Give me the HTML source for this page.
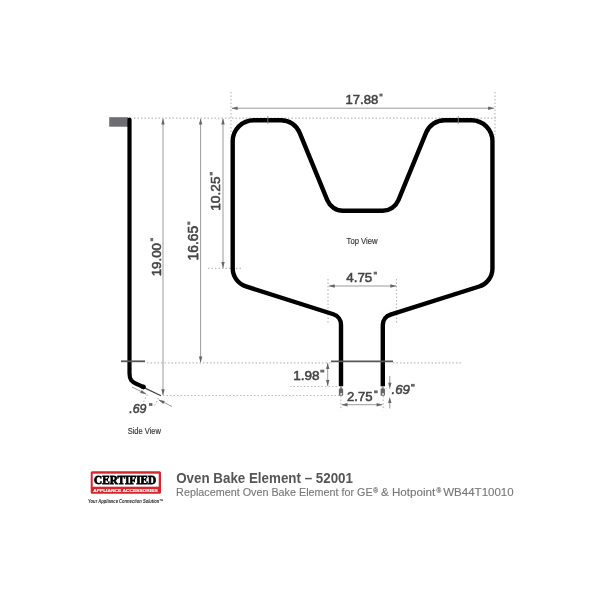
<!DOCTYPE html>
<html><head><meta charset="utf-8"><style>
html,body{margin:0;padding:0;background:#fff;width:600px;height:600px;overflow:hidden}
svg{display:block;will-change:transform}
</style></head><body>
<svg width="600" height="600" viewBox="0 0 600 600">
<rect width="600" height="600" fill="#fff"/>
<line x1="134" y1="118.2" x2="498" y2="118.2" stroke="#bcbcbc" stroke-width="1.2" stroke-dasharray="1.5 2" fill="none"/>
<line x1="231" y1="92" x2="231" y2="135" stroke="#bcbcbc" stroke-width="1.2" stroke-dasharray="1.5 2" fill="none"/>
<line x1="495" y1="92" x2="495" y2="135" stroke="#bcbcbc" stroke-width="1.2" stroke-dasharray="1.5 2" fill="none"/>
<line x1="208" y1="268.3" x2="241" y2="268.3" stroke="#bcbcbc" stroke-width="1.2" stroke-dasharray="1.5 2" fill="none"/>
<line x1="147" y1="362.8" x2="331" y2="362.8" stroke="#bcbcbc" stroke-width="1.2" stroke-dasharray="1.5 2" fill="none"/>
<line x1="393" y1="362.8" x2="463" y2="362.8" stroke="#bcbcbc" stroke-width="1.2" stroke-dasharray="1.5 2" fill="none"/>
<line x1="163" y1="395.5" x2="340" y2="395.5" stroke="#bcbcbc" stroke-width="1.2" stroke-dasharray="1.5 2" fill="none"/>
<line x1="290" y1="386.5" x2="338" y2="386.5" stroke="#bcbcbc" stroke-width="1.2" stroke-dasharray="1.5 2" fill="none"/>
<line x1="328" y1="279" x2="328" y2="324" stroke="#bcbcbc" stroke-width="1.2" stroke-dasharray="1.5 2" fill="none"/>
<line x1="396.5" y1="279" x2="396.5" y2="324" stroke="#bcbcbc" stroke-width="1.2" stroke-dasharray="1.5 2" fill="none"/>
<line x1="340.9" y1="396" x2="340.9" y2="410.2" stroke="#bcbcbc" stroke-width="1.2" stroke-dasharray="1.5 2" fill="none"/>
<line x1="383.2" y1="396" x2="383.2" y2="410.2" stroke="#bcbcbc" stroke-width="1.2" stroke-dasharray="1.5 2" fill="none"/>
<line x1="385.5" y1="388.6" x2="393" y2="388.6" stroke="#d8d8d8" stroke-width="1" stroke-dasharray="1.5 2"/>
<line x1="147.5" y1="394.5" x2="143.5" y2="402" stroke="#bcbcbc" stroke-width="1.2" stroke-dasharray="1.5 2" fill="none"/>
<line x1="158.5" y1="398" x2="154.5" y2="406" stroke="#bcbcbc" stroke-width="1.2" stroke-dasharray="1.5 2" fill="none"/>
<line x1="232" y1="108.2" x2="494" y2="108.2" stroke="#9a9a9a" stroke-width="1" fill="none"/>
<path d="M231.50 108.20 L237.70 106.50 L237.70 109.90 Z" fill="#666"/>
<path d="M494.30 108.20 L488.10 109.90 L488.10 106.50 Z" fill="#666"/>
<line x1="163" y1="119" x2="163" y2="395" stroke="#9a9a9a" stroke-width="1" fill="none"/>
<path d="M163.00 118.20 L164.70 124.40 L161.30 124.40 Z" fill="#666"/>
<path d="M163.00 395.50 L161.30 389.30 L164.70 389.30 Z" fill="#666"/>
<line x1="200.6" y1="119" x2="200.6" y2="362" stroke="#9a9a9a" stroke-width="1" fill="none"/>
<path d="M200.60 118.30 L202.30 124.50 L198.90 124.50 Z" fill="#666"/>
<path d="M200.60 362.70 L198.90 356.50 L202.30 356.50 Z" fill="#666"/>
<line x1="223.0" y1="119" x2="223.0" y2="268" stroke="#9a9a9a" stroke-width="1" fill="none"/>
<path d="M223.00 118.30 L224.70 124.50 L221.30 124.50 Z" fill="#666"/>
<path d="M223.00 268.30 L221.30 262.10 L224.70 262.10 Z" fill="#666"/>
<line x1="329" y1="286" x2="396" y2="286" stroke="#9a9a9a" stroke-width="1" fill="none"/>
<path d="M328.50 286.00 L334.70 284.30 L334.70 287.70 Z" fill="#666"/>
<path d="M396.50 286.00 L390.30 287.70 L390.30 284.30 Z" fill="#666"/>
<line x1="327.7" y1="363" x2="327.7" y2="386" stroke="#9a9a9a" stroke-width="1" fill="none"/>
<path d="M327.70 362.80 L329.40 369.00 L326.00 369.00 Z" fill="#666"/>
<path d="M327.70 386.30 L326.00 380.10 L329.40 380.10 Z" fill="#666"/>
<line x1="342" y1="404.7" x2="382" y2="404.7" stroke="#9a9a9a" stroke-width="1" fill="none"/>
<path d="M341.30 404.70 L347.50 403.00 L347.50 406.40 Z" fill="#666"/>
<path d="M382.80 404.70 L376.60 406.40 L376.60 403.00 Z" fill="#666"/>
<line x1="389.8" y1="376" x2="389.8" y2="383" stroke="#9a9a9a" stroke-width="1" fill="none"/>
<path d="M389.80 389.00 L388.10 382.80 L391.50 382.80 Z" fill="#666"/>
<line x1="389.8" y1="401" x2="389.8" y2="408.5" stroke="#9a9a9a" stroke-width="1" fill="none"/>
<path d="M389.80 396.90 L391.50 403.10 L388.10 403.10 Z" fill="#666"/>
<line x1="132" y1="387" x2="146" y2="394" stroke="#9a9a9a" stroke-width="1" fill="none"/>
<path d="M146.50 394.30 L140.19 393.05 L141.71 390.01 Z" fill="#666"/>
<line x1="159" y1="400" x2="172" y2="406.5" stroke="#9a9a9a" stroke-width="1" fill="none"/>
<path d="M158.50 399.80 L164.81 401.05 L163.29 404.09 Z" fill="#666"/>
<path d="M341.00 386.20 L341.00 324.74 A11.00 11.00 0 0 0 333.34 314.26 L245.93 286.42 A19.00 19.00 0 0 1 232.70 268.31 L232.70 141.20 A21.00 21.00 0 0 1 253.70 120.20 L281.08 120.20 A20.00 20.00 0 0 1 299.59 132.61 L327.28 200.15 A17.00 17.00 0 0 0 343.01 210.70 L382.69 210.70 A17.00 17.00 0 0 0 398.42 200.15 L426.11 132.61 A20.00 20.00 0 0 1 444.62 120.20 L471.45 120.20 A21.00 21.00 0 0 1 492.45 141.20 L492.45 268.38 A19.00 19.00 0 0 1 479.18 286.50 L390.48 314.57 A11.00 11.00 0 0 0 382.80 325.06 L382.80 386.20" stroke="#000" stroke-width="4.4" fill="none" stroke-linecap="butt"/>
<line x1="267.8" y1="116" x2="267.8" y2="124" stroke="#888" stroke-width="0.8"/>
<line x1="458.3" y1="116" x2="458.3" y2="124" stroke="#888" stroke-width="0.8"/>
<rect x="340.00" y="386" width="2" height="3" fill="#999"/>
<rect x="338.85" y="388.6" width="4.3" height="7.1" rx="0.8" fill="#666"/>
<rect x="340.30" y="393.3" width="1.8" height="1.4" fill="#fff"/>
<rect x="381.80" y="386" width="2" height="3" fill="#999"/>
<rect x="380.65" y="388.6" width="4.3" height="7.1" rx="0.8" fill="#666"/>
<rect x="382.10" y="393.3" width="1.8" height="1.4" fill="#fff"/>
<line x1="331" y1="361.3" x2="393" y2="361.3" stroke="#555" stroke-width="1.8"/>
<rect x="109.2" y="117.2" width="19" height="9.5" fill="#6e6e72"/>
<path d="M129.5 119.6 L129.5 373.5 C129.5 379.5 131.5 381.8 137.2 384.2 L143.6 387.1" stroke="#000" stroke-width="4.2" fill="none" stroke-linecap="round"/>
<line x1="144" y1="387.6" x2="161" y2="395.8" stroke="#444" stroke-width="1.2"/>
<circle cx="143.3" cy="386.9" r="2.4" fill="#000"/>
<line x1="121" y1="361.3" x2="145" y2="361.3" stroke="#555" stroke-width="1.8"/>
<text font-family="Liberation Sans, sans-serif" font-size="13.362" font-weight="normal" font-style="normal" fill="#444" stroke="#444" stroke-width="0.55" transform="matrix(0.9818 0 0 1 345.473 103.796)">17.88</text>
<rect x="346.78" y="102.75" width="5.25" height="1.30" fill="#444"/>
<rect x="379.40" y="93.60" width="3.20" height="2.80" fill="#6a6a6a"/>
<text font-family="Liberation Sans, sans-serif" font-size="13.553" font-weight="normal" font-style="normal" fill="#444" stroke="#444" stroke-width="0.55" transform="matrix(0.9869 0 0 1 346.262 281.894)">4.75</text>
<rect x="373.70" y="271.70" width="3.30" height="2.80" fill="#6a6a6a"/>
<text font-family="Liberation Sans, sans-serif" font-size="13.362" font-weight="normal" font-style="normal" fill="#444" stroke="#444" stroke-width="0.55" transform="matrix(1.0143 0 0 1 293.240 379.896)">1.98</text>
<rect x="294.60" y="378.85" width="5.42" height="1.30" fill="#444"/>
<rect x="320.30" y="369.70" width="4.00" height="2.80" fill="#6a6a6a"/>
<text font-family="Liberation Sans, sans-serif" font-size="13.362" font-weight="normal" font-style="normal" fill="#444" stroke="#444" stroke-width="0.55" transform="matrix(0.9874 0 0 1 346.910 400.596)">2.75</text>
<rect x="374.00" y="390.40" width="3.70" height="2.80" fill="#6a6a6a"/>
<text font-family="Liberation Sans, sans-serif" font-size="13.644" font-weight="normal" font-style="italic" fill="#444" stroke="#444" stroke-width="0.55" transform="matrix(0.9725 0 0 1 391.453 394.294)">.69</text>
<rect x="411.00" y="383.90" width="3.70" height="2.80" fill="#6a6a6a"/>
<text font-family="Liberation Sans, sans-serif" font-size="13.220" font-weight="normal" font-style="italic" fill="#444" stroke="#444" stroke-width="0.55" transform="matrix(0.9354 0 0 1 129.288 413.198)">.69</text>
<rect x="149.00" y="403.10" width="3.40" height="2.80" fill="#6a6a6a"/>
<text font-family="Liberation Sans, sans-serif" font-size="13.362" font-weight="normal" font-style="normal" fill="#444" stroke="#444" stroke-width="0.55" transform="matrix(0 -0.9989 1 0 160.596 276.344)">19.00</text>
<rect x="159.55" y="269.67" width="1.30" height="5.34" fill="#444"/>
<rect x="150.40" y="238.00" width="2.80" height="3.20" fill="#6a6a6a"/>
<text font-family="Liberation Sans, sans-serif" font-size="13.927" font-weight="normal" font-style="normal" fill="#444" stroke="#444" stroke-width="0.55" transform="matrix(0 -0.9958 1 0 197.991 260.384)">16.65</text>
<rect x="196.94" y="253.45" width="1.30" height="5.55" fill="#444"/>
<rect x="187.40" y="221.60" width="2.80" height="3.20" fill="#6a6a6a"/>
<text font-family="Liberation Sans, sans-serif" font-size="13.362" font-weight="normal" font-style="normal" fill="#444" stroke="#444" stroke-width="0.55" transform="matrix(0 -1.0284 1 0 219.996 210.774)">10.25</text>
<rect x="218.95" y="203.90" width="1.30" height="5.50" fill="#444"/>
<rect x="209.80" y="172.00" width="2.80" height="3.40" fill="#6a6a6a"/>
<text font-family="Liberation Sans, sans-serif" font-size="8.240" font-weight="normal" fill="#333" stroke="#333" stroke-width="0.15" transform="matrix(0.9361 0 0 1 346.530 244.100)">Top View</text>
<text font-family="Liberation Sans, sans-serif" font-size="8.520" font-weight="normal" fill="#333" stroke="#333" stroke-width="0.15" transform="matrix(0.8833 0 0 1 127.654 433.600)">Side View</text>
<text font-family="Liberation Sans, sans-serif" font-size="13.827" font-weight="bold" fill="#555" transform="matrix(0.9672 0 0 1 176.152 482.600)">Oven Bake Element – 52001</text>
<text font-family="Liberation Sans, sans-serif" font-size="11.173" font-weight="normal" fill="#777" stroke="#777" stroke-width="0.12" transform="matrix(0.9664 0 0 1 176.115 496.300)">Replacement Oven Bake Element for GE</text>
<text font-family="Liberation Sans, sans-serif" font-size="11.173" font-weight="normal" fill="#777" stroke="#777" stroke-width="0.12" transform="matrix(1.0443 0 0 1 380.892 496.300)">&amp; Hotpoint</text>
<text font-family="Liberation Sans, sans-serif" font-size="11.173" font-weight="normal" fill="#777" stroke="#777" stroke-width="0.12" transform="matrix(1.0320 0 0 1 443.242 496.300)">WB44T10010</text>
<text x="373.3" y="492.6" font-size="6.4" font-family="Liberation Sans, sans-serif" fill="#777" stroke="#777" stroke-width="0.2">®</text>
<text x="436.4" y="492.6" font-size="6.4" font-family="Liberation Sans, sans-serif" fill="#777" stroke="#777" stroke-width="0.2">®</text>
<rect x="90.7" y="471.3" width="70.3" height="22.4" fill="#d8262b" rx="1.5"/>
<rect x="92.7" y="473.7" width="66" height="13" fill="#fff"/>
<text font-family="Liberation Serif, sans-serif" font-size="11.905" font-weight="bold" font-style="normal" fill="#000" stroke="#000" stroke-width="0.80" transform="matrix(0.9449 0 0 1 94.099 483.931)">CERTIFIED</text>
<text x="93.2" y="491.8" font-size="4.2" font-weight="bold" font-family="Liberation Sans, sans-serif" fill="#fff" stroke="#fff" stroke-width="0.15" textLength="64.5" lengthAdjust="spacingAndGlyphs">APPLIANCE ACCESSORIES</text>
<text x="88" y="502.6" font-size="5.4" font-style="italic" font-weight="bold" font-family="Liberation Sans, sans-serif" fill="#1a1a1a" textLength="75.5" lengthAdjust="spacingAndGlyphs">Your Appliance Connection Solution™</text>
</svg>
</body></html>
